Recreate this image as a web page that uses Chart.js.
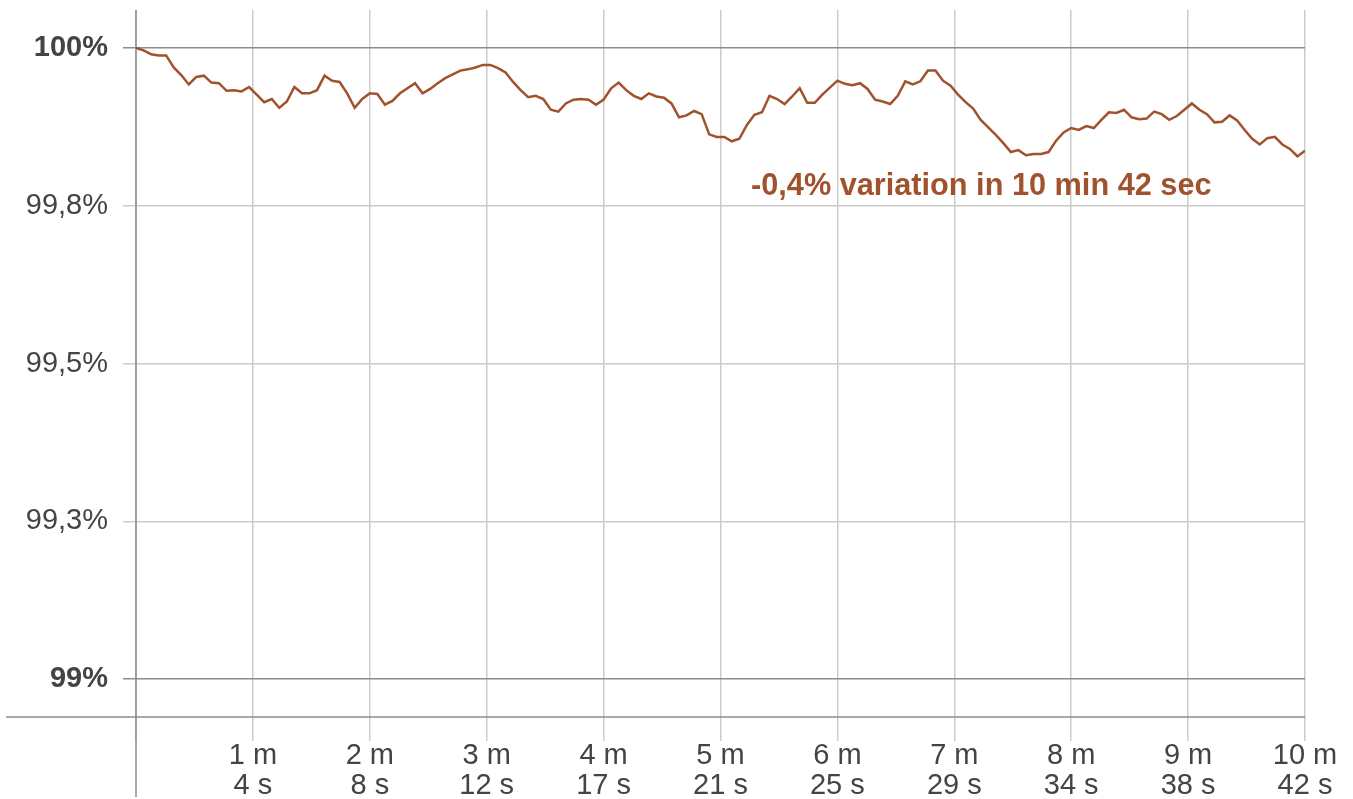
<!DOCTYPE html>
<html>
<head>
<meta charset="utf-8">
<script src="https://cdn.jsdelivr.net/npm/chart.js@4"></script>
<style>
  html, body { margin: 0; padding: 0; background: #fff; }
  #wrap { width: 1353px; height: 799px; }
</style>
</head>
<body>
<div id="wrap"><canvas id="varChart" width="1353" height="799"></canvas></div>
<script>
// total span of the recording, seconds (10 min 42 s)
const timeSpan = 642;

// relative value in %
const values = [
    100.000, 99.996, 99.990, 99.988, 99.988, 99.969, 99.957, 99.942, 99.954, 99.956,
    99.945, 99.944, 99.932, 99.933, 99.931, 99.938, 99.926, 99.914, 99.919, 99.905,
    99.915, 99.938, 99.928, 99.928, 99.933, 99.956, 99.948, 99.946, 99.928, 99.905,
    99.919, 99.928, 99.927, 99.910, 99.916, 99.928, 99.936, 99.944, 99.928,
    99.935, 99.944, 99.952, 99.958, 99.964, 99.966, 99.969, 99.973, 99.973, 99.968,
    99.961, 99.946, 99.933, 99.922, 99.924, 99.919, 99.902, 99.899, 99.912, 99.918,
    99.919, 99.918, 99.910, 99.918, 99.936, 99.945, 99.933, 99.924, 99.919, 99.928,
    99.923, 99.921, 99.912, 99.890, 99.893, 99.900, 99.895, 99.863, 99.859, 99.859,
    99.852, 99.856, 99.878, 99.894, 99.898, 99.924, 99.919, 99.911, 99.923, 99.936,
    99.913, 99.913, 99.926, 99.937, 99.948, 99.943, 99.941, 99.944, 99.935, 99.918,
    99.915, 99.911, 99.924, 99.947, 99.942, 99.947, 99.964, 99.964, 99.948, 99.940,
    99.926, 99.914, 99.904, 99.886, 99.874, 99.862, 99.849, 99.835,
    99.838, 99.830, 99.832, 99.832, 99.835, 99.853, 99.866, 99.873, 99.870, 99.876,
    99.873, 99.886, 99.898, 99.897, 99.902, 99.890, 99.887, 99.888, 99.899, 99.895,
    99.886, 99.892, 99.902, 99.912, 99.902, 99.895, 99.882, 99.883, 99.893, 99.885,
    99.870, 99.856, 99.847, 99.857, 99.859, 99.847, 99.840, 99.828, 99.837
];

const yTicks = [99, 99.25, 99.5, 99.75, 100];
const yTickLabels = ['99%', '99,3%', '99,5%', '99,8%', '100%'];

const xTicks = [0, 64.2, 128.4, 192.6, 256.8, 321, 385.2, 449.4, 513.6, 577.8, 642];
const xTickLabels = [
    [''], ['1 m', '4 s'], ['2 m', '8 s'], ['3 m', '12 s'], ['4 m', '17 s'], ['5 m', '21 s'],
    ['6 m', '25 s'], ['7 m', '29 s'], ['8 m', '34 s'], ['9 m', '38 s'], ['10 m', '42 s']
];

const noteText = '-0,4% variation in 10 min 42 sec';

const lineColor = '#a0522d';
const fontFamily = '"Liberation Sans", Arial, sans-serif';

// samples are evenly spaced over the whole span
const points = values.map((v, i) => ({ x: i * timeSpan / (values.length - 1), y: v }));

const isMajor = c => !!(c && c.tick && (c.tick.value === 100 || c.tick.value === 99));

// axis lines that run past the plot area + the note
const extras = {
    id: 'extras',
    beforeDatasetsDraw(chart) {
        const { ctx, chartArea } = chart;
        ctx.save();
        ctx.strokeStyle = '#8c8c8c';
        ctx.lineWidth = 1.5;
        ctx.beginPath();
        ctx.moveTo(6, chartArea.bottom);
        ctx.lineTo(chartArea.right, chartArea.bottom);
        ctx.moveTo(chartArea.left, chartArea.top);
        ctx.lineTo(chartArea.left, 797);
        ctx.stroke();
        ctx.restore();
    },
    afterDraw(chart) {
        const { ctx } = chart;
        ctx.save();
        ctx.fillStyle = lineColor;
        ctx.font = 'bold 30.7px ' + fontFamily;
        ctx.textBaseline = 'middle';
        ctx.textAlign = 'left';
        ctx.fillText(noteText, 751, 187);
        ctx.restore();
    }
};

new Chart(document.getElementById('varChart'), {
    type: 'line',
    data: {
        datasets: [{
            data: points,
            borderColor: lineColor,
            borderWidth: 2.5,
            pointRadius: 0,
            tension: 0,
            fill: false
        }]
    },
    options: {
        responsive: false,
        devicePixelRatio: 1,
        animation: false,
        layout: { padding: { top: 10, right: 48, left: 0, bottom: 0 } },
        plugins: { legend: { display: false }, tooltip: { enabled: false } },
        scales: {
            x: {
                type: 'linear',
                min: 0,
                max: timeSpan,
                afterBuildTicks: s => { s.ticks = xTicks.map(v => ({ value: v })); },
                afterFit: s => { s.height = 82; s.paddingLeft = 0; s.paddingRight = 0; },
                border: { display: false },
                grid: { color: '#cccccc', lineWidth: 1.5, tickLength: 24 },
                ticks: {
                    autoSkip: false,
                    maxRotation: 0,
                    padding: 0,
                    color: '#444',
                    font: { family: fontFamily, size: 29, lineHeight: 1.04 },
                    callback: (v, i) => xTickLabels[i]
                }
            },
            y: {
                min: 98.94,
                max: 100.06,
                afterBuildTicks: s => { s.ticks = yTicks.map(v => ({ value: v })); },
                afterFit: s => { s.width = 136; s.paddingTop = 0; s.paddingBottom = 0; },
                border: { display: false },
                grid: {
                    color: c => isMajor(c) ? '#8c8c8c' : '#cccccc',
                    lineWidth: 1.5,
                    tickLength: 13
                },
                ticks: {
                    padding: 15,
                    color: '#444',
                    font: c => ({ family: fontFamily, size: 29, weight: isMajor(c) ? 'bold' : 'normal' }),
                    callback: (v, i) => yTickLabels[i]
                }
            }
        }
    },
    plugins: [extras]
});
</script>
</body>
</html>
